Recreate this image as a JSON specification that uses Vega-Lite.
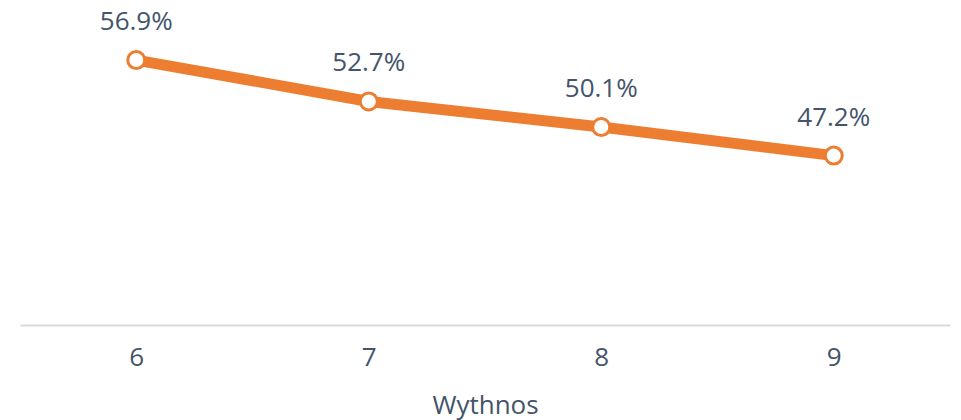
{
  "$schema": "https://vega.github.io/schema/vega-lite/v6.json",
  "width": 930,
  "height": 325,
  "autosize": "none",
  "padding": {"left": 20, "top": 0, "right": 11, "bottom": 95},
  "config": {"view": {"stroke": null}, "font": "Open Sans"},
  "data": {"values": [
    {"week": "6", "pct": 0.569},
    {"week": "7", "pct": 0.527},
    {"week": "8", "pct": 0.501},
    {"week": "9", "pct": 0.472}
  ]},
  "encoding": {
    "x": {"field": "week", "type": "ordinal", "scale": {"type": "point", "padding": 0.5},
      "axis": {"title": "Wythnos", "labelAngle": 0, "ticks": false, "grid": false, "domainColor": "#d9d9d9", "domainWidth": 2,
        "labelFontSize": 26, "labelColor": "#44546a", "labelPadding": 19, "labelFont": "Open Sans",
        "titleFontSize": 26, "titleColor": "#44546a", "titleFontWeight": "normal", "titlePadding": 22, "titleFont": "Open Sans"}},
    "y": {"field": "pct", "type": "quantitative", "scale": {"domain": [0.30, 0.63], "zero": false}, "axis": null}
  },
  "layer": [
    {"mark": {"type": "line", "color": "#ED7D31", "strokeWidth": 11}},
    {"mark": {"type": "point", "filled": true, "fill": "white", "stroke": "#ED7D31", "strokeWidth": 3, "size": 290, "opacity": 1}},
    {"mark": {"type": "text", "dy": -38, "fontSize": 26, "color": "#44546a", "font": "Open Sans"},
      "encoding": {"text": {"field": "pct", "type": "quantitative", "format": ".1%"}}}
  ]
}
